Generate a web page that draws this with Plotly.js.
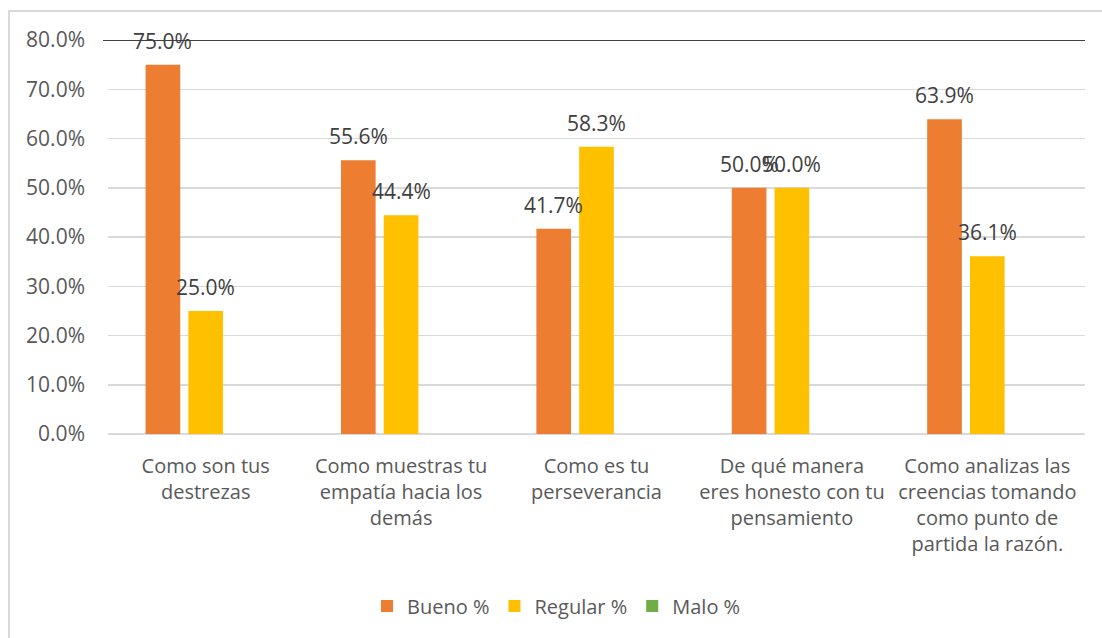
<!DOCTYPE html>
<html>
<head>
<meta charset="utf-8">
<script src="https://cdn.plot.ly/plotly-3.0.1.min.js"></script>
<style>
  html, body { margin: 0; padding: 0; background: #fff; }
  #wrap { position: relative; width: 1102px; height: 638px; overflow: hidden; }
  #chart { width: 1102px; height: 638px; }
  #frame { position: absolute; left: 8px; top: 10px; width: 1110px; height: 650px;
           border: 2px solid #d9d9d9; box-sizing: border-box; pointer-events: none; }
</style>
</head>
<body>
<div id="wrap">
  <div id="chart"></div>
  <div id="frame"></div>
</div>
<script>
const categories = [
  "Como son tus<br>destrezas",
  "Como muestras tu<br>empatía hacia los<br>demás",
  "Como es tu<br>perseverancia",
  "De qué manera<br>eres honesto con tu<br>pensamiento",
  "Como analizas las<br>creencias tomando<br>como punto de<br>partida la razón."
];
const seriesNames = ["Bueno %", "Regular %", "Malo %"];
const bueno = [0.75, 0.556, 0.417, 0.50, 0.639];
const regular = [0.25, 0.444, 0.583, 0.50, 0.361];
const malo = [0, 0, 0, 0, 0];
const colors = ["#ED7D31", "#FFC000", "#70AD47"];
const yTicks = [0, 0.1, 0.2, 0.3, 0.4, 0.5, 0.6, 0.7, 0.8];

const FONT = "Open Sans, sans-serif";
const W = 1102, H = 638;
const margin = {l: 108, r: 17, t: 40, b: 204};
const bargap = 0.343, bargroupgap = 0.19;

const allSeries = [bueno, regular, malo];
const traces = allSeries.map((vals, i) => ({
  type: "bar",
  name: seriesNames[i],
  x: categories,
  y: vals,
  marker: {color: colors[i]},
  hoverinfo: "skip"
}));

// Data labels for Bueno and Regular, positioned over each bar slot
const plotW = W - margin.l - margin.r;
const catW = plotW / categories.length;
const slotW = catW * (1 - bargap) / allSeries.length;
const annotations = [];
[bueno, regular].forEach((vals, si) => {
  const shift = (si - (allSeries.length - 1) / 2) * slotW;
  vals.forEach((v, ci) => {
    annotations.push({
      x: categories[ci], y: v, xref: "x", yref: "y",
      text: (v * 100).toFixed(1) + "%",
      showarrow: false, xshift: shift, yshift: 24,
      xanchor: "center", yanchor: "middle",
      font: {family: FONT, size: 21, color: "#404040"}
    });
  });
});

const layout = {
  width: W, height: H,
  margin: margin,
  paper_bgcolor: "#fff", plot_bgcolor: "#fff",
  barmode: "group", bargap: bargap, bargroupgap: bargroupgap,
  font: {family: FONT, size: 20, color: "#595959"},
  showlegend: true,
  legend: {
    orientation: "h", xref: "container", yref: "container",
    x: 0.505, xanchor: "center", y: (H - 606) / H, yanchor: "middle",
    font: {family: FONT, size: 20, color: "#595959"},
    itemwidth: 30, traceorder: "normal"
  },
  xaxis: {
    type: "category",
    showgrid: false, zeroline: false, showline: false,
    ticks: "", tickfont: {family: FONT, size: 20, color: "#595959"},
    ticklabelstandoff: 18, automargin: false, fixedrange: true
  },
  yaxis: {
    range: [0, 0.8], tickvals: yTicks, tickformat: ".1%",
    showgrid: true, gridcolor: "#d9d9d9", gridwidth: 1.5,
    zeroline: true, zerolinecolor: "#d9d9d9", zerolinewidth: 1.5,
    showline: false, ticks: "",
    tickfont: {family: FONT, size: 21, color: "#595959"},
    ticklabelstandoff: 22, automargin: false, fixedrange: true
  },
  shapes: [{
    type: "line", xref: "paper", yref: "y",
    x0: -5 / plotW, x1: 1, y0: 0.8, y1: 0.8,
    line: {color: "#404040", width: 2}, layer: "below"
  }],
  annotations: annotations
};

Plotly.newPlot("chart", traces, layout, {displayModeBar: false, staticPlot: true});
</script>
</body>
</html>
